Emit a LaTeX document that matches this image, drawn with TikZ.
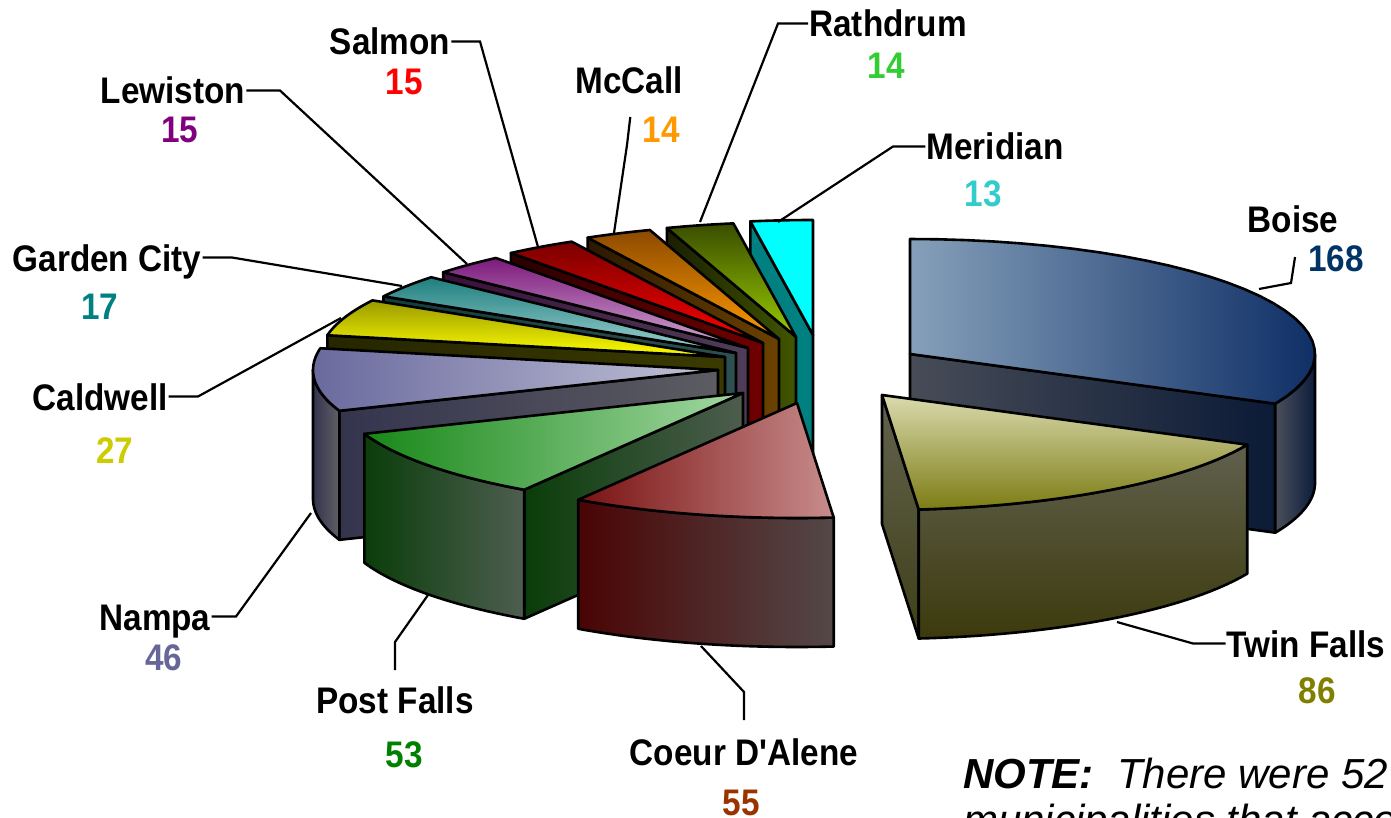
\documentclass[tikz,border=0pt]{standalone}
\usepackage{fontspec}
\setmainfont{Liberation Sans}
\newfontfamily\lblfont{Liberation Sans}[FakeStretch=0.9]
\definecolor{nSalmon}{HTML}{FF0000}
\definecolor{nLew}{HTML}{800080}
\definecolor{nMcCall}{HTML}{FF9900}
\definecolor{nRath}{HTML}{33CC33}
\definecolor{nMer}{HTML}{33CCCC}
\definecolor{nBoise}{HTML}{003366}
\definecolor{nGC}{HTML}{008080}
\definecolor{nCald}{HTML}{CCCC00}
\definecolor{nNampa}{HTML}{666699}
\definecolor{nPF}{HTML}{008000}
\definecolor{nCdA}{HTML}{993300}
\definecolor{nTF}{HTML}{808000}
\tikzset{
  edge/.style={draw=black,line width=2.6pt,line join=round},
  leader/.style={draw=black,line width=2.2pt},
  lbl/.style={font={\lblfont\bfseries\fontsize{37}{40}\selectfont},inner sep=1pt,text height=27pt,text depth=0pt,anchor=base},
}
% top face: apex x, apex y, a1, a2, options
\newcommand\pieTop[5]{\path[edge,#5] ({#1+405*sin(#3)},{#2-115*cos(#3)}) -- plot[domain=#3:#4,samples=30] ({#1+405*sin(\x)},{#2-115*cos(\x)}) -- (#1,#2) -- cycle;}
% radial side face: apex x, apex y, angle, options
\newcommand\pieSide[4]{\path[edge,#4] (#1,#2) -- ({#1+405*sin(#3)},{#2-115*cos(#3)}) -- ++(0,129) -- (#1,{#2+129}) -- cycle;}
% outer curved face: apex x, apex y, t1, t2, options
\newcommand\pieOuter[5]{\path[edge,#5] plot[domain=#3:#4,samples=30] ({#1+405*sin(\x)},{#2-115*cos(\x)}) -- plot[domain=#4:#3,samples=30] ({#1+405*sin(\x)},{#2+129-115*cos(\x)}) -- cycle;}
\begin{document}
\begin{tikzpicture}[x=1pt,y=-1pt]
\useasboundingbox[fill=white] (0,0) rectangle (1391,818);
% Meridian
\pieSide{813}{335}{351.1}{fill={rgb,255:red,0;green,128;blue,128}}
\pieTop{813}{335}{351.1}{360}{fill={rgb,255:red,0;green,255;blue,255}}
% Rathdrum
\pieSide{796}{337}{341.4}{left color={rgb,255:red,26;green,31;blue,0},right color={rgb,255:red,64;green,85;blue,0}}
\pieTop{796}{337}{341.4}{351.1}{top color={rgb,255:red,58;green,77;blue,0},bottom color={rgb,255:red,153;green,204;blue,0}}
% McCall
\pieSide{779}{339}{331.8}{left color={rgb,255:red,43;green,24;blue,0},right color={rgb,255:red,107;green,66;blue,0}}
\pieTop{779}{339}{331.8}{341.4}{top color={rgb,255:red,140;green,74;blue,0},bottom color={rgb,255:red,255;green,153;blue,0}}
% Salmon
\pieSide{763}{343}{321.5}{left color={rgb,255:red,42;green,0;blue,0},right color={rgb,255:red,112;green,0;blue,0}}
\pieTop{763}{343}{321.5}{331.8}{top color={rgb,255:red,122;green,0;blue,0},bottom color={rgb,255:red,255;green,0;blue,0}}
% Lewiston
\pieSide{748}{348}{311.2}{left color={rgb,255:red,58;green,15;blue,58},right color={rgb,255:red,79;green,61;blue,88}}
\pieTop{748}{348}{311.2}{321.5}{top color={rgb,255:red,125;green,26;blue,125},bottom color={rgb,255:red,210;green,168;blue,210}}
% Garden City
\pieSide{736}{353}{299.5}{left color={rgb,255:red,18;green,60;blue,60},right color={rgb,255:red,47;green,80;blue,80}}
\pieTop{736}{353}{299.5}{311.2}{top color={rgb,255:red,31;green,127;blue,127},bottom color={rgb,255:red,160;green,210;blue,210}}
% Caldwell
\pieSide{725}{357}{280.9}{left color={rgb,255:red,38;green,38;blue,0},right color={rgb,255:red,58;green,58;blue,0}}
\pieTop{725}{357}{280.9}{299.5}{top color={rgb,255:red,154;green,154;blue,0},bottom color={rgb,255:red,255;green,255;blue,0}}
% Nampa
\pieSide{718}{370}{249.2}{left color={rgb,255:red,52;green,52;blue,78},right color={rgb,255:red,92;green,92;blue,98}}
\pieOuter{718}{370}{249.2}{270}{left color={rgb,255:red,51;green,51;blue,77},right color={rgb,255:red,96;green,96;blue,102}}
\pieTop{718}{370}{249.2}{280.9}{left color={rgb,255:red,106;green,106;blue,158},right color={rgb,255:red,194;green,194;blue,216}}
% Post Falls
\pieSide{743}{393}{212.7}{left color={rgb,255:red,10;green,61;blue,10},right color={rgb,255:red,77;green,93;blue,78}}
\pieOuter{743}{393}{212.7}{249.2}{right color={rgb,255:red,78;green,94;blue,80},left color={rgb,255:red,10;green,61;blue,10}}
\pieTop{743}{393}{212.7}{249.2}{left color={rgb,255:red,24;green,136;blue,24},right color={rgb,255:red,164;green,216;blue,164}}
% Coeur D'Alene
\pieOuter{797}{403}{174.8}{212.7}{left color={rgb,255:red,74;green,4;blue,4},right color={rgb,255:red,84;green,72;blue,72}}
\pieTop{797}{403}{174.8}{212.7}{left color={rgb,255:red,122;green,18;blue,18},right color={rgb,255:red,200;green,140;blue,140}}
% Boise
\pieSide{910}{354}{115.6}{left color={rgb,255:red,71;green,76;blue,87},right color={rgb,255:red,11;green,26;blue,54}}
\pieOuter{910}{354}{90}{115.6}{left color={rgb,255:red,75;green,80;blue,91},right color={rgb,255:red,12;green,28;blue,60}}
\pieTop{910}{354}{0}{115.6}{left color={rgb,255:red,134;green,160;blue,186},right color={rgb,255:red,15;green,47;blue,102}}
% Twin Falls
\pieSide{882}{395}{174.8}{top color={rgb,255:red,99;green,99;blue,79},bottom color={rgb,255:red,63;green,63;blue,24}}
\pieOuter{882}{395}{115.6}{174.8}{top color={rgb,255:red,96;green,96;blue,78},bottom color={rgb,255:red,60;green,58;blue,12}}
\pieTop{882}{395}{115.6}{174.8}{top color={rgb,255:red,218;green,218;blue,174},bottom color={rgb,255:red,124;green,124;blue,20}}

% leader end points on the slices
\coordinate (salmonTip) at (538,247);
\coordinate (lewTip) at (467,264);
\coordinate (mccallTip) at (614,233);
\coordinate (rathTip) at (700,222);
\coordinate (merTip) at (778,222);
\coordinate (boiseTip) at (1259,289);
\coordinate (gcTip) at (402,286);
\coordinate (caldTip) at (341,318);
\coordinate (nampaTip) at (311,513);
\coordinate (pfTip) at (428,595);
\coordinate (cdaTip) at (701,646);
\coordinate (tfTip) at (1117,622);

% labels
\node[lbl] (salmon) at (390,55) {Salmon};
\node[lbl,text=nSalmon] (salmonN) at (404,95) {15};
\node[lbl] (lew) at (173,104) {Lewiston};
\node[lbl,text=nLew] (lewN) at (180,143) {15};
\node[lbl] (mccall) at (629,94) {McCall};
\node[lbl,text=nMcCall] (mccallN) at (661,143) {14};
\node[lbl] (rath) at (888,37) {Rathdrum};
\node[lbl,text=nRath] (rathN) at (886,79) {14};
\node[lbl] (mer) at (995,160) {Meridian};
\node[lbl,text=nMer] (merN) at (983,207) {13};
\node[lbl] (boise) at (1293,233) {Boise};
\node[lbl,text=nBoise] (boiseN) at (1336,271) {168};
\node[lbl] (gc) at (107,271) {Garden City};
\node[lbl,text=nGC] (gcN) at (100,319) {17};
\node[lbl] (cald) at (100,410) {Caldwell};
\node[lbl,text=nCald] (caldN) at (115,463) {27};
\node[lbl] (nampa) at (155,630) {Nampa};
\node[lbl,text=nNampa] (nampaN) at (164,670) {46};
\node[lbl] (pf) at (395,713) {Post Falls};
\node[lbl,text=nPF] (pfN) at (404,767) {53};
\node[lbl] (cda) at (744,765) {Coeur D'Alene};
\node[lbl,text=nCdA] (cdaN) at (741,815) {55};
\node[lbl] (tf) at (1306,657) {Twin Falls};
\node[lbl,text=nTF] (tfN) at (1317,703) {86};

% leaders
\draw[leader] (salmon.east) -- (480,41.5) -- (salmonTip);
\draw[leader] (lew.east) -- (280,90.5) -- (lewTip);
\draw[leader] (mccallN.west |- 0,117) ++(-11,0) -- (627,145) -- (mccallTip);
\draw[leader] (rath.west) -- (778,23.5) -- (rathTip);
\draw[leader] (mer.west) -- (893,146.5) -- (merTip);
\draw[leader] (boiseN.west |- 0,257) ++(-12,0) -- (1291,283) -- (boiseTip);
\draw[leader] (gc.east) -- (232,257.5) -- (gcTip);
\draw[leader] (cald.east) -- (198,396.5) -- (caldTip);
\draw[leader] (nampa.east) -- (236,616.5) -- (nampaTip);
\draw[leader] (pf.north |- 0,670) -- (395,642) -- (pfTip);
\draw[leader] (cda.north |- 0,720) -- (744,692) -- (cdaTip);
\draw[leader] (tf.west) -- (1193,643.5) -- (tfTip);

% note
\node[anchor=base west,inner sep=0pt,font={\fontsize{42}{46}\selectfont}] (note) at (963,788) {\textbf{\textit{NOTE:}}\ \ \textit{There were 52}};
\node[anchor=base west,inner sep=0pt,font={\fontsize{42}{46}\selectfont}] (note2) at (963,834) {\textit{municipalities that acco}};
\end{tikzpicture}
\end{document}
